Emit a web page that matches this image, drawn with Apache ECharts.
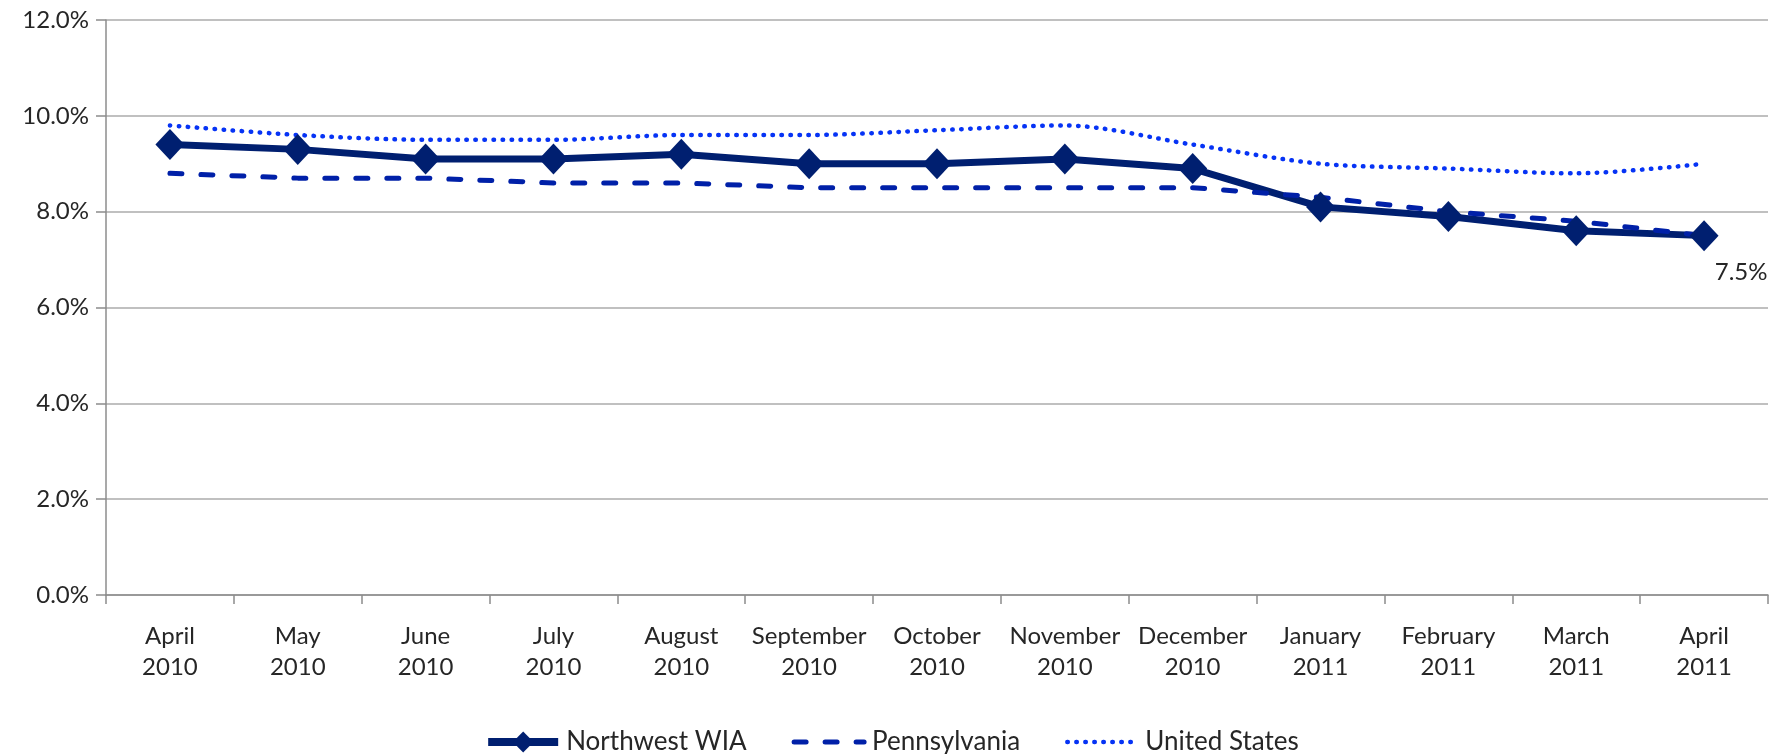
<!DOCTYPE html>
<html>
<head>
<meta charset="utf-8">
<script src="https://cdn.jsdelivr.net/npm/echarts@6/dist/echarts.min.js"></script>
<style>
html,body{margin:0;padding:0;background:#fff;}
#chart{width:1783px;height:754px;}
</style>
</head>
<body>
<div id="chart"></div>
<script>
const categories = ['April\n2010','May\n2010','June\n2010','July\n2010','August\n2010','September\n2010','October\n2010','November\n2010','December\n2010','January\n2011','February\n2011','March\n2011','April\n2011'];
const northwestWIA = [9.4, 9.3, 9.1, 9.1, 9.2, 9.0, 9.0, 9.1, 8.9, 8.1, 7.9, 7.6, 7.5];
const pennsylvania = [8.8, 8.7, 8.7, 8.6, 8.6, 8.5, 8.5, 8.5, 8.5, 8.3, 8.0, 7.8, 7.5];
const unitedStates = [9.8, 9.6, 9.5, 9.5, 9.6, 9.6, 9.7, 9.8, 9.4, 9.0, 8.9, 8.8, 9.0];
const seriesNames = ['Northwest WIA', 'Pennsylvania', 'United States'];

const FONT = 'Lato';
const TEXT = '#262626';
const C_NW = '#001f70', C_PA = '#0020a8', C_US = '#0633f5';

const chart = echarts.init(document.getElementById('chart'));
const nwData = northwestWIA.map((v, i) => i === northwestWIA.length - 1
  ? {value: v, label: {show: true, position: 'bottom', distance: 9, offset: [37, 0], formatter: p => p.value.toFixed(1) + '%', color: TEXT, fontSize: 24, fontFamily: FONT}}
  : v);

chart.setOption({
  animation: false,
  grid: {left: 106, right: 15, top: 20, bottom: 159},
  xAxis: {
    type: 'category',
    data: categories,
    boundaryGap: true,
    axisLine: {lineStyle: {color: '#8c8c8c', width: 1.5}},
    axisTick: {show: true, length: 9, lineStyle: {color: '#8c8c8c', width: 1.5}},
    axisLabel: {color: TEXT, fontSize: 24, fontFamily: FONT, lineHeight: 31, margin: 26, interval: 0}
  },
  yAxis: {
    type: 'value',
    min: 0, max: 12, interval: 2,
    axisLine: {show: true, lineStyle: {color: '#8c8c8c', width: 1.5}},
    axisTick: {show: true, length: 10, lineStyle: {color: '#8c8c8c', width: 1.5}},
    splitLine: {lineStyle: {color: '#ababab', width: 1.5}},
    axisLabel: {color: TEXT, fontSize: 24, fontFamily: FONT, margin: 17, formatter: v => v.toFixed(1) + '%'}
  },
  legend: {
    data: [
      {name: seriesNames[0], lineStyle: {width: 8, color: C_NW}},
      {name: seriesNames[1], itemStyle: {opacity: 0}, lineStyle: {width: 5, color: C_PA, type: [12, 19], cap: 'round'}},
      {name: seriesNames[2], itemStyle: {opacity: 0}, lineStyle: {width: 4.5, color: C_US, type: [0.5, 8.5], cap: 'round'}}
    ],
    left: 'center',
    top: 724,
    itemWidth: 70,
    itemHeight: 26,
    itemGap: 45,
    textStyle: {color: TEXT, fontSize: 26, fontFamily: FONT, padding: [0, 0, 0, 3]}
  },
  series: [
    {
      name: seriesNames[0], type: 'line', data: nwData,
      symbol: 'diamond', symbolSize: [29, 31],
      itemStyle: {color: C_NW},
      lineStyle: {color: C_NW, width: 7}
    },
    {
      name: seriesNames[1], type: 'line', data: pennsylvania,
      symbol: 'none',
      itemStyle: {color: C_PA},
      lineStyle: {color: C_PA, width: 5, type: [12, 19], cap: 'round'}
    },
    {
      name: seriesNames[2], type: 'line', data: unitedStates,
      symbol: 'none', smooth: 0.3,
      itemStyle: {color: C_US},
      lineStyle: {color: C_US, width: 4.5, type: [0.5, 8.5], cap: 'round'}
    }
  ]
});
</script>
</body>
</html>
